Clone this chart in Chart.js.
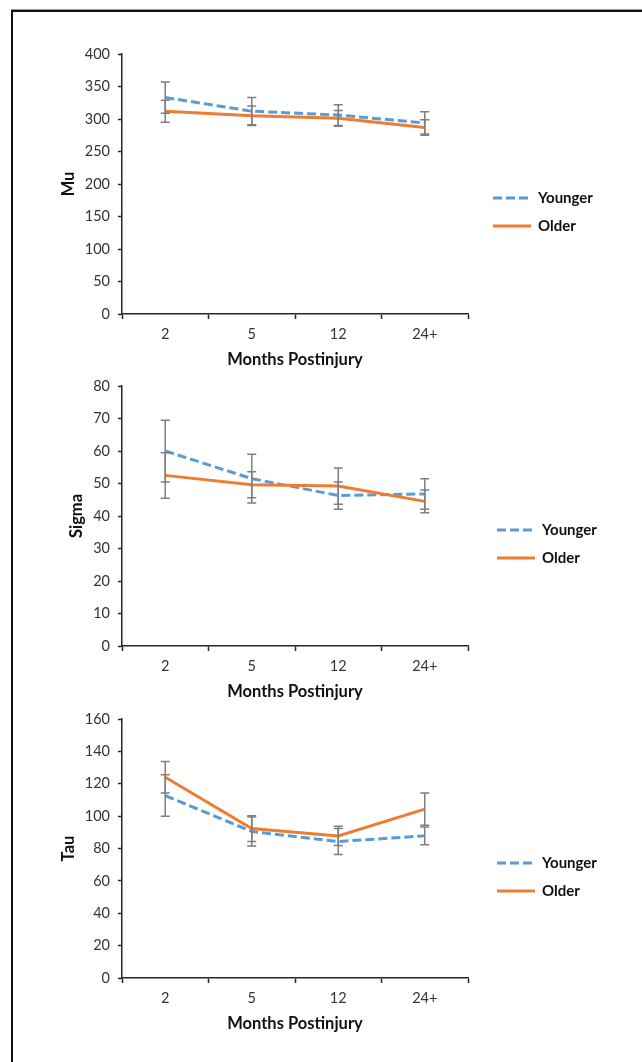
<!DOCTYPE html>
<html>
<head>
<meta charset="utf-8">
<title>Mu, Sigma, Tau by Months Postinjury</title>
<script src="https://cdn.jsdelivr.net/npm/chart.js@4.4.1/dist/chart.umd.min.js"></script>
<style>
	html, body { margin: 0; padding: 0; background: #ffffff; }
	body { width: 642px; height: 1062px; position: relative; overflow: hidden; }
	.frame-outer { position: absolute; left: 11px; top: 9px; width: 700px; height: 1100px; border-top: 1px solid #9a9a9a; }
	.frame-inner { position: absolute; left: 11px; top: 10px; width: 700px; height: 1100px; border-left: 2px solid #111; border-top: 2px solid #111; }
	.panel { position: absolute; left: 0; width: 642px; height: 360px; }
	.panel canvas { display: block; }
</style>
</head>
<body>
<div class="frame-outer"></div>
<div class="frame-inner"></div>
<div class="panel" style="top: 30px;"><canvas id="chart-mu" width="642" height="360"></canvas></div>
<div class="panel" style="top: 362px;"><canvas id="chart-sigma" width="642" height="360"></canvas></div>
<div class="panel" style="top: 695px;"><canvas id="chart-tau" width="642" height="360"></canvas></div>
<script>
// Shared categories
var months = ['2', '5', '12', '24+'];

// Mu panel
var muYounger    = [333, 312, 306, 294];
var muYoungerErr = [24, 21, 16, 17];
var muOlder      = [312, 305, 301, 287];
var muOlderErr   = [17, 15, 12, 12];
var muTicks      = [0, 50, 100, 150, 200, 250, 300, 350, 400];

// Sigma panel
var sigmaYounger    = [60, 51.5, 46.3, 46.8];
var sigmaYoungerErr = [9.5, 7.5, 4.2, 4.7];
var sigmaOlder      = [52.5, 49.6, 49.2, 44.5];
var sigmaOlderErr   = [7, 4, 5.6, 3.5];
var sigmaTicks      = [0, 10, 20, 30, 40, 50, 60, 70, 80];

// Tau panel
var tauYounger    = [112.7, 90.5, 84.3, 87.8];
var tauYoungerErr = [12.8, 9, 8, 5.5];
var tauOlder      = [124, 92.3, 87.8, 104.3];
var tauOlderErr   = [9.7, 8, 6, 10];
var tauTicks      = [0, 20, 40, 60, 80, 100, 120, 140, 160];

(function () {
	'use strict';

	var BLUE      = '#5b9bd5';
	var ORANGE    = '#ed7d31';
	var AXIS      = '#262626';
	var TICK_TEXT = '#333333';
	var TITLE     = '#111111';
	var ERR       = '#7f7f7f';
	var FONT      = 'Lato, "Open Sans", sans-serif';

	// Error bars drawn through the y scale of each chart
	var errorBars = {
		id: 'errorBars',
		afterDatasetsDraw: function (chart) {
			var ctx    = chart.ctx;
			var yScale = chart.scales.y;
			ctx.save();
			ctx.strokeStyle = ERR;
			ctx.lineWidth   = 1.5;
			chart.data.datasets.forEach(function (ds, di) {
				var meta = chart.getDatasetMeta(di);
				if ( ! ds.errors) {
					return;
				}
				meta.data.forEach(function (pt, i) {
					var v   = ds.data[i];
					var e   = ds.errors[i];
					var top = yScale.getPixelForValue(v + e);
					var bot = yScale.getPixelForValue(v - e);
					ctx.beginPath();
					ctx.moveTo(pt.x, top);
					ctx.lineTo(pt.x, bot);
					ctx.moveTo(pt.x - 4.5, top);
					ctx.lineTo(pt.x + 4.5, top);
					ctx.moveTo(pt.x - 4.5, bot);
					ctx.lineTo(pt.x + 4.5, bot);
					ctx.stroke();
				});
			});
			ctx.restore();
		}
	};

	// Legend at the right of the plot, like the spreadsheet original
	var sideLegend = {
		id: 'sideLegend',
		afterDraw: function (chart, args, opts) {
			var ctx  = chart.ctx;
			var area = chart.chartArea;
			var x    = opts.x;
			var y    = area.top + opts.y;
			var list = [chart.data.datasets[0], chart.data.datasets[1]];
			ctx.save();
			list.forEach(function (ds, i) {
				var ly = y + i * 28;
				ctx.beginPath();
				ctx.strokeStyle = ds.borderColor;
				ctx.lineWidth   = ds.borderWidth;
				ctx.setLineDash(ds.borderDash || []);
				ctx.moveTo(x, ly);
				ctx.lineTo(x + 38, ly);
				ctx.stroke();
				ctx.setLineDash([]);
				ctx.fillStyle    = TITLE;
				ctx.font         = 'bold 15px ' + FONT;
				ctx.textBaseline = 'middle';
				ctx.textAlign    = 'left';
				ctx.fillText(ds.label, x + 45, ly);
			});
			ctx.restore();
		}
	};

	function makeChart(canvasId, younger, youngerErr, older, olderErr, ticks, yTitle, yTitlePad, legendX, padBottom) {
		var ctx = document.getElementById(canvasId);
		var max = ticks[ticks.length - 1];
		var step = ticks[1] - ticks[0];

		return new Chart(ctx, {
			type: 'line',
			data: {
				labels: months,
				datasets: [{
					label: 'Younger',
					data: younger,
					errors: youngerErr,
					borderColor: BLUE,
					borderWidth: 3,
					borderDash: [9, 4],
					pointRadius: 0,
					tension: 0,
					order: 2
				}, {
					label: 'Older',
					data: older,
					errors: olderErr,
					borderColor: ORANGE,
					borderWidth: 3,
					pointRadius: 0,
					tension: 0,
					order: 1
				}]
			},
			options: {
				responsive: false,
				animation: false,
				layout: {
					padding: { left: 0, right: 174, top: 24, bottom: padBottom }
				},
				plugins: {
					legend: { display: false },
					tooltip: { enabled: false },
					sideLegend: { x: legendX, y: 144 }
				},
				scales: {
					x: {
						type: 'category',
						offset: true,
						afterFit: function (scale) {
							scale.height = 60;
						},
						grid: {
							offset: true,
							drawOnChartArea: false,
							tickLength: 5,
							tickColor: AXIS,
							tickWidth: 1.5
						},
						border: { color: AXIS, width: 1.5 },
						ticks: {
							color: TICK_TEXT,
							font: { family: FONT, size: 14.5 },
							padding: 7,
							maxRotation: 0
						},
						title: {
							display: true,
							text: 'Months Postinjury',
							color: TITLE,
							font: { family: FONT, size: 16.5, weight: 'bold' },
							padding: { top: 0, bottom: 4 }
						}
					},
					y: {
						min: 0,
						max: max,
						afterFit: function (scale) {
							scale.width = 122;
						},
						afterBuildTicks: function (scale) {
							scale.ticks = ticks.map(function (v) { return { value: v }; });
						},
						grid: {
							drawOnChartArea: false,
							tickLength: 4,
							tickColor: AXIS,
							tickWidth: 1.5
						},
						border: { color: AXIS, width: 1.5 },
						ticks: {
							stepSize: step,
							color: TICK_TEXT,
							font: { family: FONT, size: 14.5 },
							padding: 8
						},
						title: {
							display: true,
							text: yTitle,
							color: TITLE,
							font: { family: FONT, size: 16.5, weight: 'bold' },
							padding: { top: yTitlePad, bottom: 0 }
						}
					}
				}
			},
			plugins: [errorBars, sideLegend]
		});
	}

	makeChart('chart-mu', muYounger, muYoungerErr, muOlder, muOlderErr, muTicks, 'Mu', 59, 493, 16);
	makeChart('chart-sigma', sigmaYounger, sigmaYoungerErr, sigmaOlder, sigmaOlderErr, sigmaTicks, 'Sigma', 67, 497, 16);
	makeChart('chart-tau', tauYounger, tauYoungerErr, tauOlder, tauOlderErr, tauTicks, 'Tau', 59, 497, 17);
})();
</script>
</body>
</html>
